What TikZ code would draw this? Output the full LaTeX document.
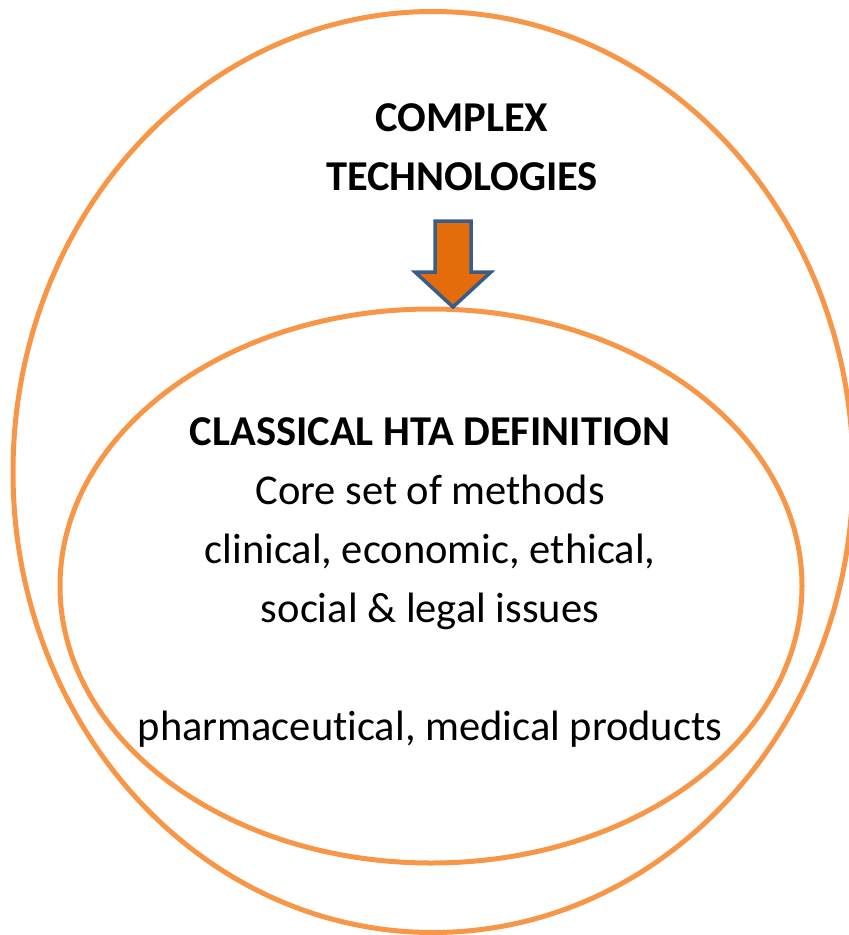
\documentclass[tikz,border=0pt]{standalone}
\usepackage{fontspec}
\setmainfont{Carlito}[Ligatures=NoCommon]
\usetikzlibrary{shapes.geometric}
\definecolor{ringorange}{RGB}{247,150,70}
\definecolor{arroworange}{RGB}{228,108,10}
\definecolor{arrowblue}{RGB}{56,93,138}
\begin{document}
\begin{tikzpicture}[x=1pt,y=-1pt,
    ring/.style={draw=ringorange, line width=5pt, ellipse, inner sep=0pt},
    label/.style={font=\fontsize{42.5}{59}\selectfont, align=center, inner sep=0pt}]
  \useasboundingbox (0,0) rectangle (849,935);
  \begin{scope}[every node/.style={ring}]
    \node (outer) at (433,472) [minimum width=840, minimum height=921] {};
    \node (inner) at (431,586) [minimum width=742, minimum height=554] {};
  \end{scope}
  % base = baseline of the last line
  \begin{scope}[every node/.style={label, anchor=base}]
    \node (complex) at (462,190) {\bfseries COMPLEX\\\bfseries TECHNOLOGIES};
    \node (classical) at (430,740) {\bfseries CLASSICAL HTA DEFINITION\\
      Core set of methods\\clinical, economic, ethical,\\social \& legal issues\\[59pt]
      pharmaceutical, medical products};
  \end{scope}
  \coordinate (tip) at (453,307);
  \draw[arrowblue, fill=arroworange, line width=3.5pt, line join=miter]
    (tip) -- ++(-38,-35) -- ++(20,0) -- ++(0,-51) -- ++(36,0) -- ++(0,51)
    -- ++(20,0) -- cycle;
\end{tikzpicture}
\end{document}
